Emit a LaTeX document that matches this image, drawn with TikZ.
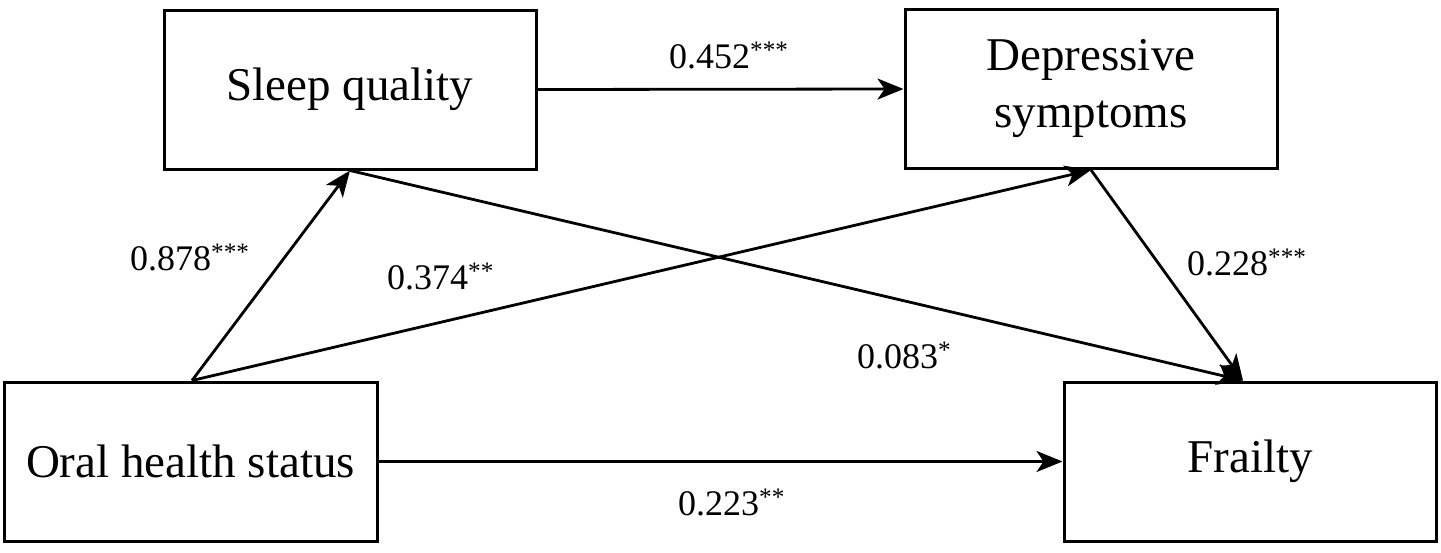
\documentclass[tikz,border=0pt]{standalone}
\usepackage{fontspec}
\setmainfont{Liberation Serif}
\usetikzlibrary{arrows.meta}
\begin{document}
\begin{tikzpicture}[x=1pt,y=-1pt,
  box/.style={draw, line width=3pt, minimum width=#1, minimum height=159pt, inner sep=0pt, font=\fontsize{47}{57}\selectfont, align=center},
  box/.default=372pt,
  conn/.style={line width=2.8pt, -{Stealth[length=26pt,width=21pt,inset=7pt]}},
  lab/.style={anchor=base west, inner sep=0pt, font=\fontsize{36}{40}\selectfont}]
\useasboundingbox (0,0) rectangle (1441,552);
\fill[white] (0,0) rectangle (1441,552);
\node[box] (sleep) at (350,89.5) {Sleep quality};
\node[box] (dep) at (1091,89) {Depressive\\symptoms};
\node[box=373pt] (oral) at (190.5,461.5) {Oral health status};
\node[box] (frail) at (1250,461.5) {Frailty};
\coordinate (ft) at ([xshift=-7pt]frail.north);
\coordinate (ot) at ([xshift=1.5pt]oral.north);
\draw[conn] (sleep.east) -- (dep.west);
\draw[conn] (ot) -- (sleep.south);
\draw[conn] (ot) -- (dep.south);
\draw[conn] (sleep.south) -- (ft);
\draw[conn] (dep.south) -- (ft);
\draw[conn] (oral.east) -- (frail.west);
\node[lab] (l452) at (669,68) {0.452\textsuperscript{***}};
\node[lab] (l878) at (130,270) {0.878\textsuperscript{***}};
\node[lab] (l374) at (387,289) {0.374\textsuperscript{**}};
\node[lab] (l228) at (1187,275) {0.228\textsuperscript{***}};
\node[lab] (l083) at (857,368) {0.083\textsuperscript{*}};
\node[lab] (l223) at (678,515) {0.223\textsuperscript{**}};
\end{tikzpicture}
\end{document}
